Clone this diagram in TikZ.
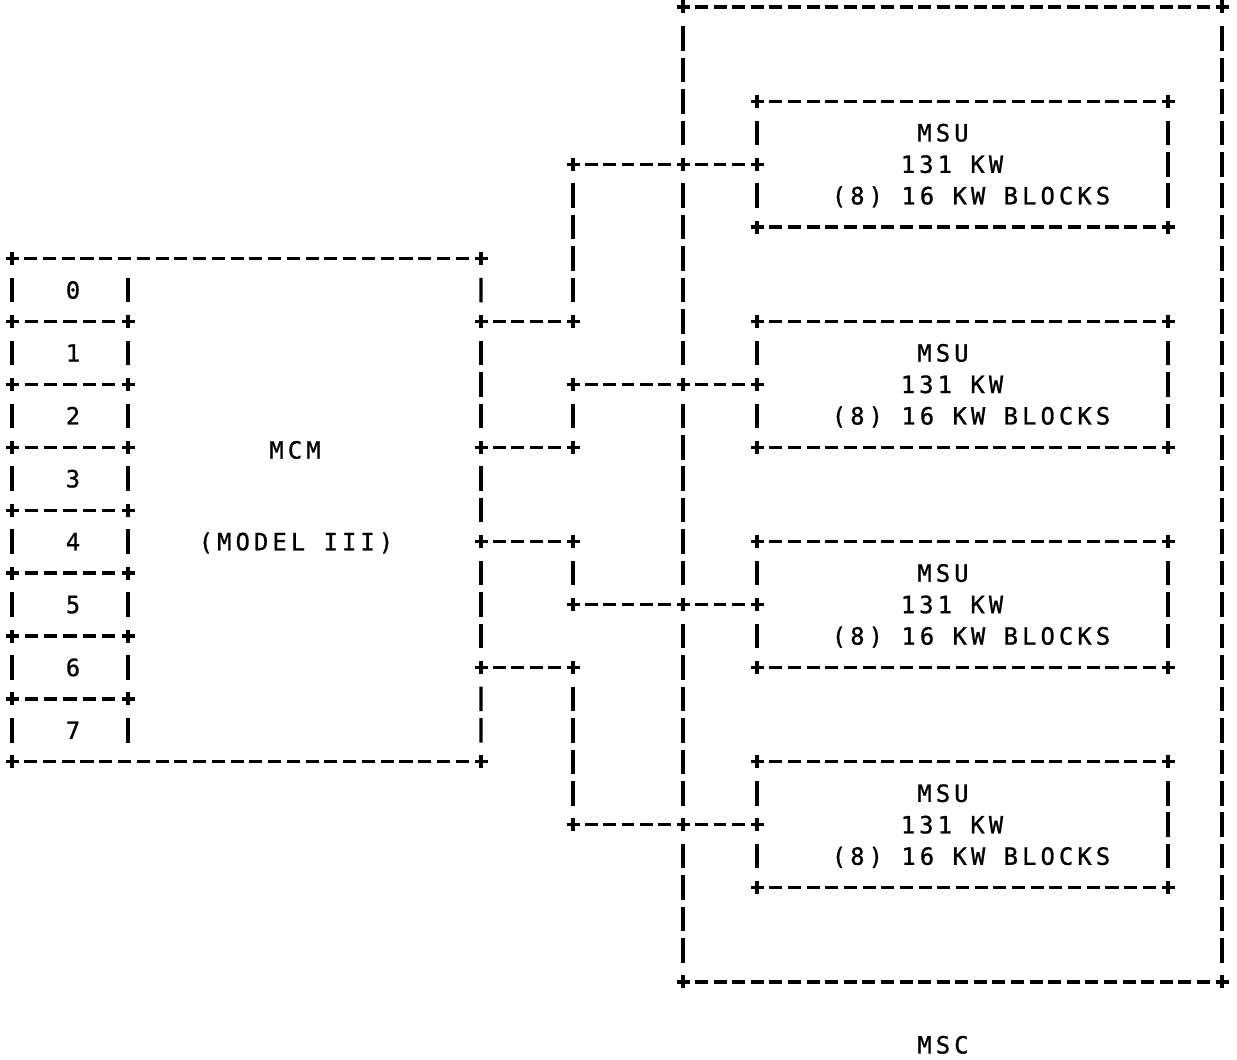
\documentclass[tikz,border=0pt]{standalone}
\usepackage{fontspec}
\usetikzlibrary{positioning, fit, calc}
\newfontfamily\teletype{DejaVu Sans Mono}[LetterSpace=17.5, FakeBold=1]
% a plus sign where lines meet
\newcommand{\junction}[1]{%
  \draw[pluspen] (#1) ++(-6.5,0) -- ++(13,0) (#1) ++(0,-6.5) -- ++(0,13);}
% dashed run between two points, dashes fitted to the run length
% #3 nominal pitch (pt), #4 share of a pitch that is inked
\newcommand{\dashrun}[4]{%
  \path let \p1=($(#2)-(#1)$), \n1={veclen(\x1,\y1)} in
    \pgfextra{\pgfmathsetmacro\runlen{\n1}\global\let\runlen\runlen};
  \pgfmathsetmacro\runcells{max(2,round(\runlen/#3))}%
  \pgfmathsetmacro\runpitch{\runlen/\runcells}%
  \pgfmathsetmacro\runon{#4*\runpitch}%
  \pgfmathsetmacro\runoff{\runpitch-\runon}%
  \pgfmathsetmacro\runcut{\runpitch-\runon/2}%
  \draw[pluspen, dash pattern=on \runon pt off \runoff pt,
    shorten <=\runcut pt, shorten >=\runcut pt] (#1) -- (#2);}
\newcommand{\hrun}[2]{\dashrun{#1}{#2}{10.47}{0.7}}
\newcommand{\vrun}[2]{\dashrun{#1}{#2}{17.9}{0.78}}

\begin{document}
\begin{tikzpicture}[x=0.02cm, y=-0.02cm,
    declare function={row(\k)=7+31.45*\k;},
    pluspen/.style={line width=1.9pt},
    frame/.style={rectangle, inner sep=0pt, outer sep=0pt},
    lbl/.style={font=\teletype\fontsize{13.5}{15}\selectfont,
      inner sep=0pt, anchor=base, yshift=-4.9pt}]
  \useasboundingbox (0,0) rectangle (1237,1060);

  % boxes
  \node[frame, fit={(12,{row(8)}) (481,{row(24)})}] (mcm) {};
  \node[frame, fit={(683,{row(0)}) (1222,{row(31)})}] (msc) {};
  \foreach \i/\k in {1/3, 2/10, 3/17, 4/24}
    \node[frame, fit={(757,{row(\k)}) (1168,{row(\k+4)})}] (msu\i) {};
  \foreach \r in {0,...,7}
    \node[frame, fit={(12,{row(8+2*\r)}) (128,{row(10+2*\r)})}] (reg\r) {};

  % MCM with its register column
  \hrun{mcm.north west}{mcm.north east}
  \hrun{mcm.south west}{mcm.south east}
  \junction{mcm.north west} \junction{mcm.north east}
  \junction{mcm.south west} \junction{mcm.south east}
  \foreach \r in {0,...,7} {
    \vrun{reg\r.north west}{reg\r.south west}
    \vrun{reg\r.north east}{reg\r.south east}
    \node[lbl] (digit\r) at (73,{row(9+2*\r)}) {\r};
  }
  \foreach \r in {0,...,6} {
    \hrun{reg\r.south west}{reg\r.south east}
    \junction{reg\r.south west} \junction{reg\r.south east}
  }
  \node[lbl] (mcmname) at (295,450) {MCM};
  \node[lbl] (mcmmodel) at (296,{row(17)}) {(MODEL III)};

  % ports on the right side of the MCM
  \coordinate (port1) at (481,{row(10)});
  \coordinate (port2) at (481,{row(14)});
  \coordinate (port3) at (481,{row(17)});
  \coordinate (port4) at (481,{row(21)});
  \vrun{mcm.north east}{port1}
  \vrun{port1}{port2}
  \vrun{port2}{port3}
  \vrun{port3}{port4}
  \vrun{port4}{mcm.south east}

  % MSC frame
  \hrun{msc.north west}{msc.north east}
  \hrun{msc.south west}{msc.south east}
  \vrun{msc.north east}{msc.south east}
  \junction{msc.north west} \junction{msc.north east}
  \junction{msc.south west} \junction{msc.south east}
  \foreach \i in {1,...,4}
    \coordinate (cross\i) at (msc.west |- msu\i.west);
  \vrun{msc.north west}{cross1}
  \vrun{cross1}{cross2}
  \vrun{cross2}{cross3}
  \vrun{cross3}{cross4}
  \vrun{cross4}{msc.south west}
  \node[lbl] (mscname) at (943,{row(33)}) {MSC};

  % MSU boxes
  \foreach \i/\k in {1/3, 2/10, 3/17, 4/24} {
    \hrun{msu\i.north west}{msu\i.north east}
    \hrun{msu\i.south west}{msu\i.south east}
    \vrun{msu\i.north east}{msu\i.south east}
    \vrun{msu\i.north west}{msu\i.west}
    \vrun{msu\i.west}{msu\i.south west}
    \junction{msu\i.north west} \junction{msu\i.north east}
    \junction{msu\i.south west} \junction{msu\i.south east}
    \node[lbl] (msuname\i) at (943,{row(\k+1)}) {MSU};
    \node[lbl] (msusize\i) at (952,{row(\k+2)}) {131 KW};
    \node[lbl] (msublocks\i) at (971,{row(\k+3)}) {(8) 16 KW BLOCKS};
  }

  % connections MCM -> MSU
  \foreach \i in {1,...,4} {
    \coordinate (bend\i) at (573,0 |- port\i);
    \coordinate (turn\i) at (bend\i |- msu\i.west);
    \hrun{port\i}{bend\i}
    \vrun{bend\i}{turn\i}
    \hrun{turn\i}{cross\i}
    \hrun{cross\i}{msu\i.west}
    \junction{port\i} \junction{bend\i} \junction{turn\i}
    \junction{cross\i} \junction{msu\i.west}
  }
\end{tikzpicture}
\end{document}
